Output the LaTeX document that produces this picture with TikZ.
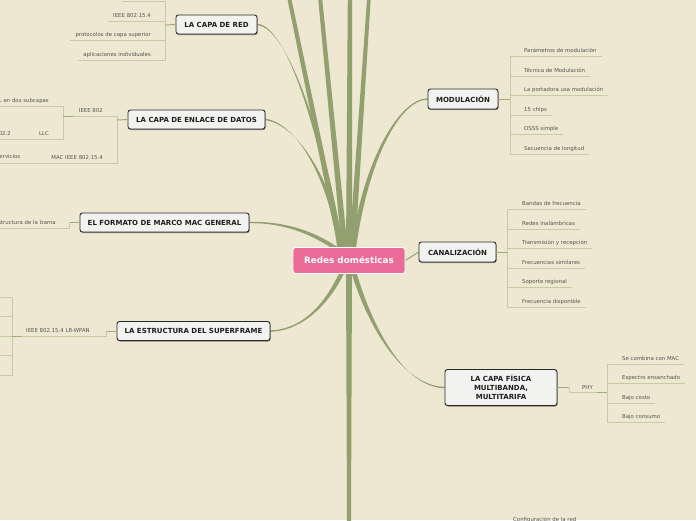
\documentclass[tikz,border=0pt]{standalone}
\usepackage{fontspec}
\setmainfont{DejaVu Sans}
\usetikzlibrary{calc,shadows}
\definecolor{bgc}{RGB}{238,232,210}
\definecolor{branch}{RGB}{145,160,110}
\definecolor{subline}{RGB}{200,202,165}
\definecolor{subjoin}{RGB}{160,172,120}
\definecolor{boxfill}{RGB}{242,242,240}
\definecolor{boxline}{RGB}{40,40,40}
\definecolor{pinkc}{RGB}{234,106,152}
\definecolor{txt}{RGB}{30,30,30}
\definecolor{subtxt}{RGB}{85,85,78}
\pgfdeclarelayer{back}\pgfdeclarelayer{bg}\pgfsetlayers{back,bg,main}
\newcommand\taper[6]{\fill[branch] ($#1+#5$) .. controls ($#2+#5$) and ($#3+#6$) .. ($#4+#6$) -- ($#4-#6$) .. controls ($#3-#6$) and ($#2-#5$) .. ($#1-#5$) -- cycle;}
\newcommand\straighttaper[4]{\fill[branch] ($#1+#3$) -- ($#2+#4$) -- ($#2-#4$) -- ($#1-#3$) -- cycle;}
\tikzset{
 topic/.style={draw=boxline, fill=boxfill, rounded corners=2.5pt, line width=0.9pt,
   font=\fontsize{7}{9}\selectfont\bfseries, text=txt, minimum height=19pt, inner xsep=6pt, inner ysep=2pt, align=center,
   drop shadow={shadow xshift=0.6pt, shadow yshift=-1pt, opacity=0.45, fill=black}},
 hub/.style={draw=white, fill=pinkc, rounded corners=2.5pt, line width=0.9pt,
   font=\fontsize{8.8}{10}\selectfont\bfseries, text=white, minimum width=112pt, minimum height=26pt},
 item/.style={font=\fontsize{5.4}{6}\selectfont, text=subtxt, inner sep=0pt},
 sub/.style={draw=subline, line width=0.8pt},
 subj/.style={draw=subjoin, line width=1pt},
}
\begin{document}
\begin{tikzpicture}[x=1pt,y=-1pt]
\useasboundingbox (0,0) rectangle (696,520);
\begin{pgfonlayer}{back}
\fill[bgc] (0,0) rectangle (696,520);
\end{pgfonlayer}

% main nodes
\node[hub] (hub) at (349,260.5) {Redes domésticas};
\node[topic, minimum width=81pt] (red) at (216.5,24.5) {LA CAPA DE RED};
\node[topic, minimum width=137pt] (enlace) at (196.5,119.5) {LA CAPA DE ENLACE DE DATOS};
\node[topic, minimum width=169pt] (formato) at (164.5,222.5) {EL FORMATO DE MARCO MAC GENERAL};
\node[topic, minimum width=153pt] (super) at (193.5,331) {LA ESTRUCTURA DEL SUPERFRAME};
\node[topic, minimum width=70pt, minimum height=20pt] (modul) at (463,99) {MODULACIÓN};
\node[topic, minimum width=77pt, minimum height=20pt] (canal) at (457.5,252) {CANALIZACIÓN};
\node[topic, minimum width=112pt, minimum height=36pt] (fisica) at (501,387.5) {LA CAPA FÍSICA\\MULTIBANDA,\\MULTITARIFA};

% free ends of branches leaving the picture
\coordinate (top1) at (289,-3);
\coordinate (top2) at (320,-3);
\coordinate (top3) at (350,-3);
\coordinate (top4) at (369,-3);
\coordinate (bot) at (349,523);
% hub entry points
\coordinate (hRed) at (341,252);
\coordinate (hEnl) at (340,252);
\coordinate (hFor) at (345,255);
\coordinate (hSup) at (344,268);
\coordinate (hMod) at (353,252);
\coordinate (hFis) at (352,266);
\coordinate (hT1) at (342,252);
\coordinate (hT2) at (345,252);
\coordinate (hT3) at (349,252);
\coordinate (hT4) at (352,252);
\coordinate (hB) at (349,268);

\begin{pgfonlayer}{bg}
\straighttaper{(top1)}{(hT1)}{(2,0)}{(3,0)}
\straighttaper{(top2)}{(hT2)}{(2,0)}{(3,0)}
\straighttaper{(top3)}{(hT3)}{(2.2,0)}{(3,0)}
\straighttaper{(top4)}{(hT4)}{(1.8,0)}{(3,0)}
\straighttaper{(bot)}{(hB)}{(2,0)}{(3,0)}
\taper{(red.east)}{(292,27)}{(330,170)}{(hRed)}{(0,0.7)}{(2.5,0)}
\taper{(enlace.east)}{(300,124)}{(335,190)}{(hEnl)}{(0,0.7)}{(2.5,0)}
\taper{(formato.east)}{(290,222)}{(320,236)}{(hFor)}{(0,0.7)}{(0,2.5)}
\taper{(super.east)}{(305,330)}{(330,300)}{(hSup)}{(0,0.7)}{(2.5,0)}
\taper{(modul.west)}{(400,99)}{(365,160)}{(hMod)}{(0,0.7)}{(2.5,0)}
\taper{(fisica.west)}{(405,387)}{(370,330)}{(hFis)}{(0,0.7)}{(2.5,0)}
\draw[subj, line width=1.2pt] (hub.east) -- (canal.west);
\end{pgfonlayer}

% ---- LA CAPA DE RED
\coordinate (redJ) at (165,25);
\coordinate (r0) at (122,1);
\node[item, anchor=base east] (r1) at (151,17) {IEEE 802.15.4};
\node[item, anchor=base east] (r2) at (151,36) {protocolos de capa superior};
\node[item, anchor=base east] (r3) at (151,56) {aplicaciones individuales};
\draw[sub] (redJ) |- (r0);
\draw[sub] (redJ) |- ($(r1.base west)+(-5,4)$);
\draw[sub] (redJ) |- ($(r2.base west)+(-5,4)$);
\draw[sub] (redJ) |- ($(r3.base west)+(-5,4)$);
\draw[subj] (red.west) -- (redJ);

% ---- LA CAPA DE ENLACE DE DATOS
\coordinate (enJ) at (117,120);
\coordinate (e1J) at (63,116);
\node[item, anchor=base east] (e1) at (103,112) {IEEE 802};
\node[item, anchor=base east] (e2) at (103,159) {MAC IEEE 802.15.4};
\node[item, anchor=base east] (e11) at (49,102) {L en dos subcapas};
\node[item, anchor=base east] (e12) at (49,135) {LLC};
\node[item, anchor=base east] (e121) at (11,135) {02.2};
\node[item, anchor=base east] (e21) at (20.5,158) {ervicios};
\draw[sub] (enJ) |- (e1J);
\draw[sub] (enJ) |- ($(e2.base west)+(-15,4)$) coordinate (e2L);
\draw[sub] (e1J) |- (0,106);
\draw[sub] (e1J) |- ($(e12.base west)+(-5,4)$) coordinate (e12L);
\draw[sub] (e12L) -- (0,139);
\draw[sub] (e2L) -- (0,163);
\draw[subj] (e1J) -- ++(10,0);
\draw[subj] (enlace.west) -- (enJ);

% ---- EL FORMATO DE MARCO MAC GENERAL
\node[item, anchor=base east] (f1) at (56,224) {structura de la trama};
\draw[subj] (formato.west) -- ++(-10,0) coordinate (fJ);
\draw[sub] (fJ) |- (0,228);

% ---- LA ESTRUCTURA DEL SUPERFRAME
\node[item, anchor=base west] (s1) at (26,332) {IEEE 802.15.4 LR-WPAN};
\draw[subj] (super.west) -- ++(-10,0) coordinate (sJ);
\coordinate (s1J) at (12,336);
\draw[sub] (sJ) |- (s1J);
\draw[sub] (s1J) |- (0,297);
\draw[sub] (s1J) |- (0,316);
\draw[sub] (s1J) -- (0,336);
\draw[sub] (s1J) |- (0,355);
\draw[sub] (s1J) |- (0,375);
\draw[subj] (s1J) -- ++(10,0);

% ---- MODULACION
\coordinate (mJ) at (510,99);
\node[item, anchor=base west] (m1) at (524,52) {Parámetros de modulación};
\node[item, anchor=base west] (m2) at (524,72) {Técnica de Modulación};
\node[item, anchor=base west] (m3) at (524,91) {La portadora usa modulación};
\node[item, anchor=base west] (m4) at (524,111) {15 chips};
\node[item, anchor=base west] (m5) at (524,130) {OSSS simple};
\node[item, anchor=base west] (m6) at (524,150) {Secuencia de longitud};
\foreach \k in {1,...,6}{\draw[sub] (mJ) |- ($(m\k.base east)+(5,4)$);}
\draw[subj] (modul.east) -- (mJ);

% ---- CANALIZACION
\coordinate (cJ) at (507,252);
\node[item, anchor=base west] (c1) at (522,205) {Bandas de frecuencia};
\node[item, anchor=base west] (c2) at (522,225) {Redes inalámbricas};
\node[item, anchor=base west] (c3) at (522,244) {Transmisión y recepción};
\node[item, anchor=base west] (c4) at (522,264) {Frecuencias similares};
\node[item, anchor=base west] (c5) at (522,283) {Soporte regional};
\node[item, anchor=base west] (c6) at (522,303) {Frecuencia disponible};
\foreach \k in {1,...,6}{\draw[sub] (cJ) |- ($(c\k.base east)+(5,4)$);}
\draw[subj] (canal.east) -- (cJ);

% ---- LA CAPA FISICA
\node[item, anchor=base west] (phy) at (582,389) {PHY};
\coordinate (pJ) at (607,392);
\draw[subj] (fisica.east) -- ++(12,0) coordinate (pK);
\draw[sub] (pK) |- (pJ);
\draw[subj] (pJ) -- ++(-10,0);
\node[item, anchor=base west] (p1) at (622,360) {Se combina con MAC};
\node[item, anchor=base west] (p2) at (622,379) {Espectro ensanchado};
\node[item, anchor=base west] (p3) at (622,399) {Bajo costo};
\node[item, anchor=base west] (p4) at (622,418) {Bajo consumo};
\foreach \k in {1,...,4}{\draw[sub] (pJ) |- ($(p\k.base east)+(5,4)$);}

% ---- bottom
\node[item, anchor=base west] (conf) at (513,521) {Configuración de la red};
\end{tikzpicture}
\end{document}
